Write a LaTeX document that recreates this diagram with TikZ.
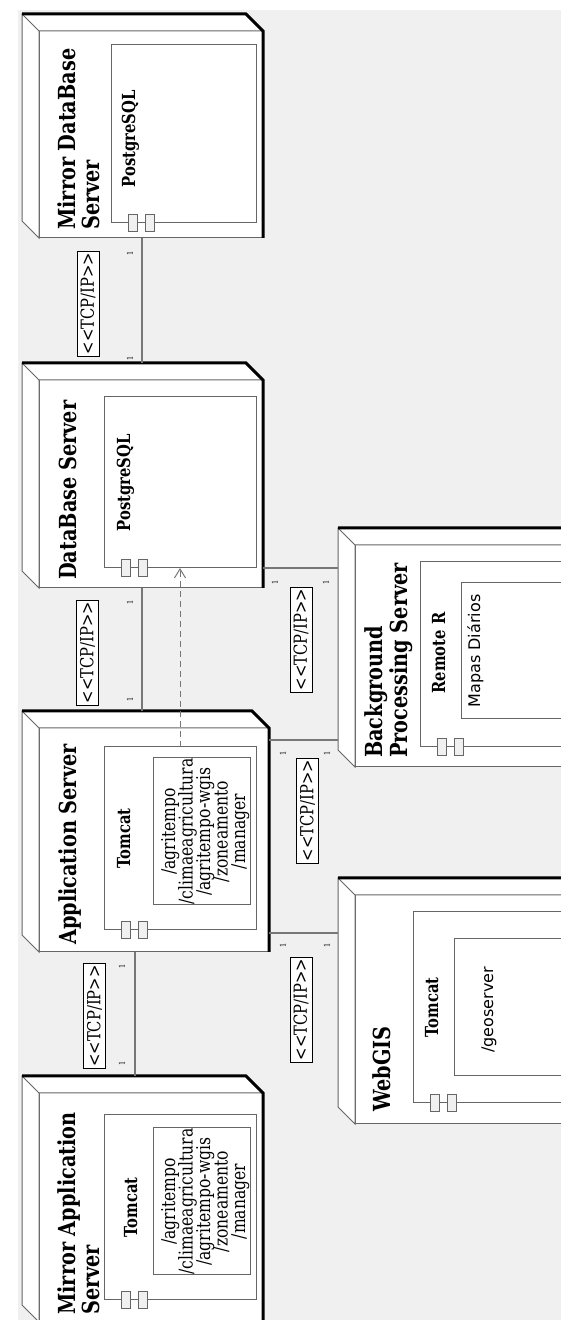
\documentclass[tikz,border=0pt]{standalone}
\usepackage{fontspec}
\setmainfont{DejaVu Serif}[FakeStretch=0.82]
\newfontfamily\sansf{DejaVu Sans}
\usetikzlibrary{calc,arrows.meta}
\definecolor{bggray}{HTML}{EFF0EF}
\definecolor{edgegray}{HTML}{666666}
\definecolor{conngray}{HTML}{777777}
\tikzset{
 face/.style={draw=edgegray, fill=white, line width=1pt, inner sep=0pt, outer sep=0pt, anchor=north west},
 edgeline/.style={draw=edgegray, line width=1pt},
 heavy/.style={draw=black, line width=3pt, line join=miter},
 comp/.style={draw=edgegray, fill=white, line width=1pt, inner sep=0pt, outer sep=0pt, anchor=north west},
 icon/.style={draw=edgegray, fill=white!94!black, line width=1pt, minimum width=17pt, minimum height=8.5pt, inner sep=0pt},
 conn/.style={draw=conngray, line width=1.5pt},
 dep/.style={draw=conngray, line width=1pt, dash pattern=on 6pt off 4pt, -{Straight Barb[length=9pt,width=11pt]}},
 tcp/.style={draw=black, fill=white, line width=0.8pt, inner sep=0pt, minimum width=105pt, minimum height=22pt, font=\fontsize{18}{18}\selectfont},
 mult/.style={font=\fontsize{8}{8}\selectfont, inner sep=0pt},
 title/.style={font=\fontsize{23.5}{24}\selectfont\bfseries, inner sep=0pt, anchor=base west},
 cname/.style={font=\fontsize{18}{18}\selectfont\bfseries, inner sep=0pt, anchor=base},
 atext/.style={font=\fontsize{19}{17.5}\selectfont, inner sep=0pt, anchor=base},
 stext/.style={font=\sansf\fontsize{16}{16}\selectfont, inner sep=0pt, anchor=base},
}
\newcommand{\nodedeco}[1]{%
 \filldraw[edgeline, fill=white] (#1.north west) -- ($(#1.north west)+(17,17)$) -- ($(#1.north east)+(17,17)$) -- ($(#1.south east)+(17,17)$) -- (#1.south east) -- (#1.north east) -- cycle;
 \draw[edgeline] (#1.north east) -- ($(#1.north east)+(17,17)$);
 \draw[heavy] ($(#1.north east)+(17,17)$) -- ($(#1.south east)+(17,17)$) -- (#1.south east) -- (#1.south west);
}
\newcommand{\compicons}[1]{%
 \node[icon] (#1i1) at ($(#1.north west)+(0,-22)$) {};
 \node[icon] (#1i2) at ($(#1.north west)+(0,-39)$) {};
}
\newcommand{\tcplabel}{<{}<TCP/IP>{}>}
\begin{document}
\begin{tikzpicture}[x=1pt,y=1pt]
\useasboundingbox (0,0) rectangle (561,1320);
\fill[white] (0,0) rectangle (561,1320);
\clip (0,0) rectangle (561,1320);
\fill[bggray] (18,0) rectangle (561,1310);
\begin{scope}[rotate=90, transform shape]
% ---------- Mirror DataBase Server
\node[face, minimum width=207pt, minimum height=224pt] (mdbf) at (1082,-39) {};
\nodedeco{mdbf}
\node[comp, minimum width=178pt, minimum height=145pt] (mdbc) at (1097,-111) {};
\compicons{mdbc}
\node[title] (mdbt1) at (1090,-75) {Mirror DataBase};
\node[title] (mdbt2) at (1090,-99) {Server};
\node[cname] (mdbn) at (1181,-135) {PostgreSQL};
% ---------- DataBase Server
\node[face, minimum width=208pt, minimum height=224pt] (dbf) at (732,-39) {};
\nodedeco{dbf}
\node[comp, minimum width=171pt, minimum height=152pt] (dbc) at (752,-104) {};
\compicons{dbc}
\node[title] (dbt) at (740,-76) {DataBase Server};
\node[cname] (dbn) at (837,-130) {PostgreSQL};
% ---------- Application Server
\node[face, minimum width=224pt, minimum height=230pt] (appf) at (368,-39) {};
\nodedeco{appf}
\node[comp, minimum width=183pt, minimum height=152pt] (appc) at (390,-104) {};
\compicons{appc}
\node[comp, minimum width=147pt, minimum height=97pt] (appa) at (415,-153) {};
\node[title] (appt) at (375,-76) {Application Server};
\node[cname] (appn) at (481.5,-130) {Tomcat};
\foreach \t [count=\i] in {/agritempo,/climaeagricultura,/agritempo-wgis,/zoneamento,/manager}
  \node[atext] (appl\i) at (488.5,{-175-17.5*(\i-1)}) {\t};
% ---------- Mirror Application Server
\node[face, minimum width=229pt, minimum height=224pt] (mappf) at (-2,-39) {};
\nodedeco{mappf}
\node[comp, minimum width=185pt, minimum height=152pt] (mappc) at (20,-104) {};
\compicons{mappc}
\node[comp, minimum width=147pt, minimum height=97pt] (mappa) at (45,-153) {};
\node[title] (mappt1) at (5,-75) {Mirror Application};
\node[title] (mappt2) at (5,-99) {Server};
\node[cname] (mappn) at (112.5,-137) {Tomcat};
\foreach \t [count=\i] in {/agritempo,/climaeagricultura,/agritempo-wgis,/zoneamento,/manager}
  \node[atext] (mappl\i) at (118.5,{-175-17.5*(\i-1)}) {\t};
% ---------- Background Processing Server
\node[face, minimum width=222pt, minimum height=265pt] (bpsf) at (553,-355) {};
\nodedeco{bpsf}
\node[comp, minimum width=185pt, minimum height=250pt] (bpsc) at (573,-420) {};
\compicons{bpsc}
\node[comp, minimum width=136pt, minimum height=200pt] (bpsa) at (601,-461) {};
\node[title] (bpst1) at (562,-382) {Background};
\node[title] (bpst2) at (562,-407) {Processing Server};
\node[cname] (bpsn) at (667,-445) {Remote R};
\node[stext] (bpsl) at (669,-480) {Mapas Diários};
% ---------- WebGIS
\node[face, minimum width=229pt, minimum height=265pt] (webf) at (196,-355) {};
\nodedeco{webf}
\node[comp, minimum width=191pt, minimum height=250pt] (webc) at (217,-413) {};
\compicons{webc}
\node[comp, minimum width=137pt, minimum height=200pt] (weba) at (244,-454) {};
\node[title] (webt) at (208,-390) {WebGIS};
\node[cname] (webn) at (312.5,-438) {Tomcat};
\node[stext] (webl) at (310,-493) {/geoserver};
% ---------- connectors
\draw[conn] ($(mdbf.north west)+(0,-103)$) -- ($(dbf.north east)+(17,-103)$);
\draw[conn] ($(dbf.north west)+(0,-103)$) -- ($(appf.north east)+(17,-103)$);
\draw[conn] ($(appf.north west)+(0,-96)$) -- ($(mappf.north east)+(17,-96)$);
\draw[conn] ($(dbf.south west)+(20,0)$) -- ($(bpsf.north west)+(199,17)$);
\draw[conn] ($(appf.south west)+(212,0)$) -- ($(bpsf.north west)+(27,17)$);
\draw[conn] ($(appf.south west)+(19,0)$) -- ($(webf.north west)+(191,17)$);
\draw[dep] (appc.east) -- (dbc.west);
% labels
\node[tcp] (tcp1) at (1016.5,-88) {\tcplabel};
\node[mult] (m1a) at (1067,-130) {1};
\node[mult] (m1b) at (962,-130) {1};
\node[tcp] (tcp2) at (667.5,-87.5) {\tcplabel};
\node[mult] (m2a) at (718,-130) {1};
\node[mult] (m2b) at (621,-130) {1};
\node[tcp] (tcp3) at (304,-94.5) {\tcplabel};
\node[mult] (m3a) at (354,-122) {1};
\node[mult] (m3b) at (257,-122) {1};
\node[tcp] (tcp4) at (680.5,-301) {\tcplabel};
\node[mult] (m4a) at (738,-275) {1};
\node[mult] (m4b) at (738,-326) {1};
\node[tcp] (tcp5) at (509.5,-307.5) {\tcplabel};
\node[mult] (m5a) at (567,-283) {1};
\node[mult] (m5b) at (567,-327) {1};
\node[tcp] (tcp6) at (310.5,-301) {\tcplabel};
\node[mult] (m6a) at (375,-283) {1};
\node[mult] (m6b) at (375,-327) {1};
\end{scope}
\end{tikzpicture}
\end{document}
